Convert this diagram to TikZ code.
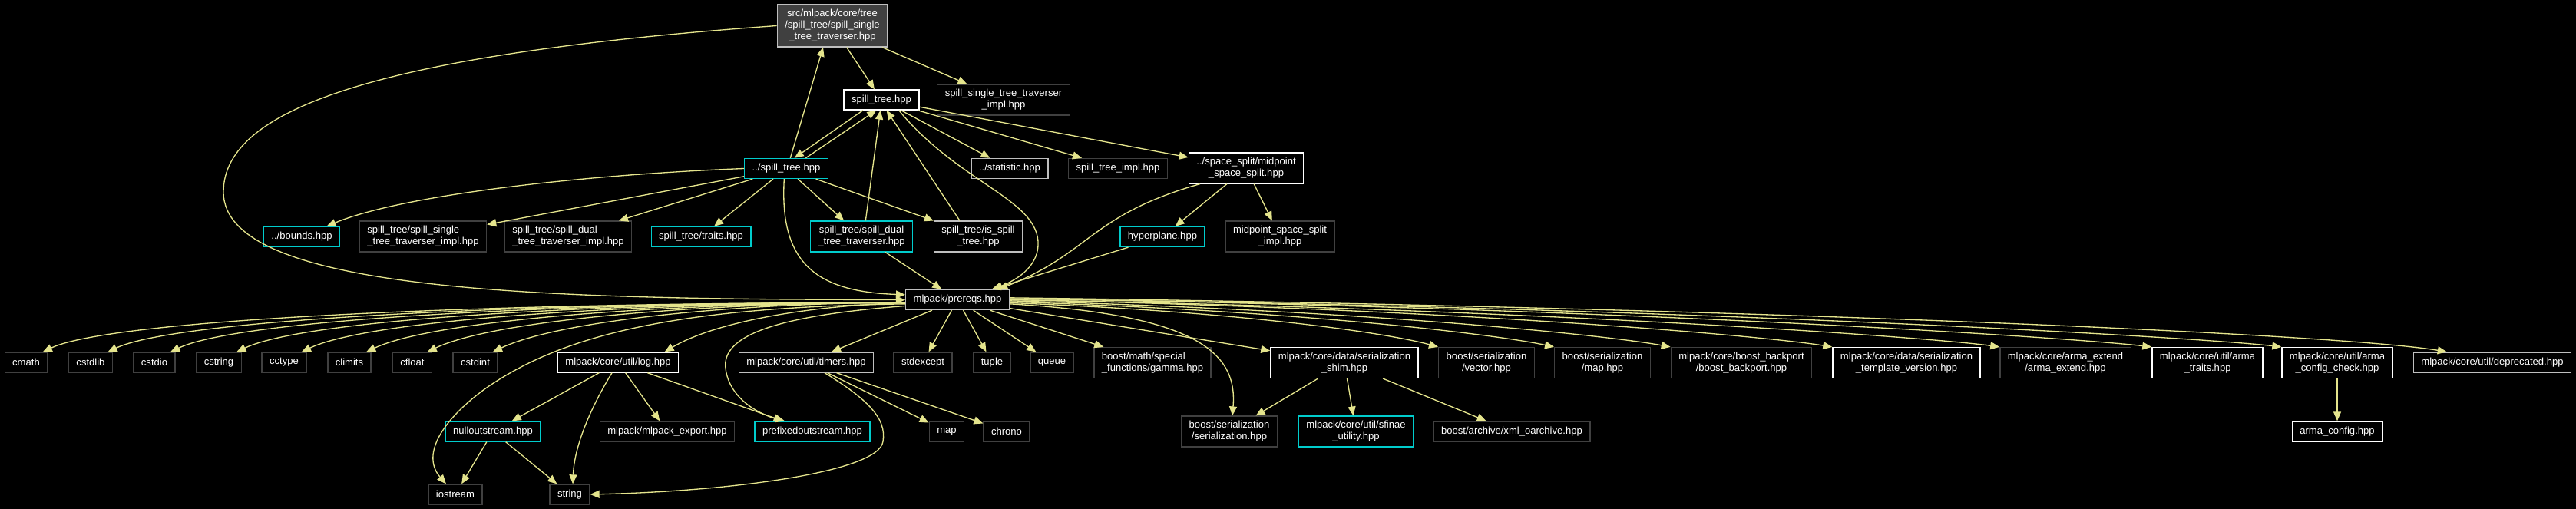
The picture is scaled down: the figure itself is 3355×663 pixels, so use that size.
\documentclass[tikz,border=0pt]{standalone}
\usepackage{fontspec}
\setmainfont{Liberation Sans}
\usepackage{tikz}
\usetikzlibrary{arrows.meta}
\definecolor{edgekhaki}{RGB}{228,228,140}
\definecolor{leafgray}{RGB}{64,64,64}
\definecolor{refgray}{RGB}{191,191,191}
\definecolor{linkcyan}{RGB}{0,204,204}
\definecolor{rootfill}{RGB}{64,64,64}
\tikzset{
  incbox/.style={rectangle,draw,line width=1pt,text=white,align=center,
    inner xsep=7.5pt,inner ysep=4.7pt,minimum height=19.5pt},
  leafbox/.style={incbox,draw=leafgray},
  docbox/.style={incbox,draw=white},
  refbox/.style={incbox,draw=refgray},
  linkbox/.style={incbox,draw=linkcyan},
  rootbox/.style={incbox,draw=refgray,fill=rootfill},
  incedge/.style={-{Triangle[length=9pt,width=7.5pt]},draw=edgekhaki,line width=1pt},
  every picture/.style={font=\fontsize{9.8}{11.3}\selectfont}
}

\begin{document}
\begin{tikzpicture}[x=0.75pt,y=-0.75pt]
  \fill[black] (0,0) rectangle (3355,663);
  \useasboundingbox (0,0) rectangle (3355,663);
  % top part
  \node[rootbox] (mn) at (1084,33.5) {src/mlpack/core/tree\\/spill\_tree/spill\_single\\\_tree\_traverser.hpp};
  \node[docbox] (st) at (1148,130) {spill\_tree.hpp};
  \node[leafbox] (sti) at (1307,130) {spill\_single\_tree\_traverser\\\_impl.hpp};
  \node[linkbox] (ls) at (1024,219.5) {../spill\_tree.hpp};
  \node[refbox] (stat) at (1315,219.5) {../statistic.hpp};
  \node[leafbox] (sti2) at (1456,219.5) {spill\_tree\_impl.hpp};
  \node[docbox] (mp) at (1623,219) {../space\_split/midpoint\\\_space\_split.hpp};
  \node[linkbox] (bd) at (393,308.5) {../bounds.hpp};
  \node[leafbox,align=left] (ssi) at (551,308) {spill\_tree/spill\_single\\\_tree\_traverser\_impl.hpp};
  \node[leafbox,align=left] (sdi) at (740,308) {spill\_tree/spill\_dual\\\_tree\_traverser\_impl.hpp};
  \node[linkbox] (tr) at (913,308.5) {spill\_tree/traits.hpp};
  \node[linkbox] (sdt) at (1122,308) {spill\_tree/spill\_dual\\\_tree\_traverser.hpp};
  \node[refbox] (ist) at (1274,308) {spill\_tree/is\_spill\\\_tree.hpp};
  \node[linkbox] (hp) at (1514,308.5) {hyperplane.hpp};
  \node[leafbox] (mpi) at (1667,308) {midpoint\_space\_split\\\_impl.hpp};
  \node[refbox] (pr) at (1247,390.5) {mlpack/prereqs.hpp};
  % prereqs row
  \node[leafbox] (cm) at (34,472) {cmath};
  \node[leafbox] (cl) at (118,472) {cstdlib};
  \node[leafbox] (ci) at (201,472) {cstdio};
  \node[leafbox] (cs) at (285,472) {cstring};
  \node[leafbox] (ct) at (370,472) {cctype};
  \node[leafbox] (cm2) at (455,472) {climits};
  \node[leafbox] (cf) at (537,472) {cfloat};
  \node[leafbox] (cd) at (619,472) {cstdint};
  \node[docbox] (lg) at (805,472) {mlpack/core/util/log.hpp};
  \node[refbox] (tm) at (1050,472) {mlpack/core/util/timers.hpp};
  \node[leafbox] (se) at (1202,472) {stdexcept};
  \node[leafbox] (tu) at (1292,472) {tuple};
  \node[leafbox] (qu) at (1370,472) {queue};
  \node[leafbox,align=left] (gm) at (1501,472.5) {boost/math/special\\\_functions/gamma.hpp};
  \node[docbox] (sh) at (1751,472.5) {mlpack/core/data/serialization\\\_shim.hpp};
  \node[leafbox] (vc) at (1936,472.5) {boost/serialization\\/vector.hpp};
  \node[leafbox] (mh) at (2087,472.5) {boost/serialization\\/map.hpp};
  \node[leafbox] (bb) at (2268,472.5) {mlpack/core/boost\_backport\\/boost\_backport.hpp};
  \node[docbox] (stv) at (2483,472.5) {mlpack/core/data/serialization\\\_template\_version.hpp};
  \node[leafbox] (ae) at (2690,472.5) {mlpack/core/arma\_extend\\/arma\_extend.hpp};
  \node[docbox] (at) at (2875,472.5) {mlpack/core/util/arma\\\_traits.hpp};
  \node[docbox] (acc) at (3044,472.5) {mlpack/core/util/arma\\\_config\_check.hpp};
  \node[refbox] (dp) at (3246,472) {mlpack/core/util/deprecated.hpp};
  % lower rows
  \node[linkbox] (nu) at (642,562) {nulloutstream.hpp};
  \node[leafbox] (me) at (869,562) {mlpack/mlpack\_export.hpp};
  \node[linkbox] (pf) at (1058,562) {prefixedoutstream.hpp};
  \node[leafbox] (mp2) at (1233,562) {map};
  \node[leafbox] (ch) at (1311,562) {chrono};
  \node[leafbox] (bs) at (1601,562) {boost/serialization\\/serialization.hpp};
  \node[linkbox] (sf) at (1766,562) {mlpack/core/util/sfinae\\\_utility.hpp};
  \node[leafbox] (xo) at (1969,562) {boost/archive/xml\_oarchive.hpp};
  \node[docbox] (ac) at (3044,562) {arma\_config.hpp};
  \node[leafbox] (io) at (593,644) {iostream};
  \node[leafbox] (sg) at (742,644) {string};
  \coordinate (mnbend) at (291,250);
  \coordinate (iobend) at (631,507);
  \coordinate (pfbend) at (945,480);
  \coordinate (stbend) at (1352,320);
  \coordinate (tmbend) at (1150,575);

  % edges
  \draw[incedge] (mn) -- (st);
  \draw[incedge] (mn) -- (sti);
  \draw[incedge] (mn.west) .. controls (500,70) and (291,140) .. (mnbend)
    .. controls (291,380) and (700,390) .. (pr.west);
  \draw[incedge] ([xshift=-18pt]st.south) -- ([xshift=8pt]ls.north);
  \draw[incedge] ([xshift=19pt]ls.north) -- ([xshift=-5pt]st.south);
  \draw[incedge] ([xshift=4pt]sdt.north) -- ([xshift=-1pt]st.south);
  \draw[incedge] ([xshift=-18pt]ist.north) -- ([xshift=5pt]st.south);
  \draw[incedge] ([xshift=4pt]ls.north) -- ([xshift=-9pt]mn.south);
  \draw[incedge] (st) -- (stat);
  \draw[incedge] (st) -- (sti2);
  \draw[incedge] (st) -- (mp);
  \draw[incedge] ([xshift=17pt]st.south) .. controls (1250,240) and (1355,260) .. (stbend)
    .. controls (1350,355) and (1310,370) .. ([xshift=35pt]pr.north);
  \draw[incedge] (ls.west) .. controls (750,228) and (520,255) .. (bd);
  \draw[incedge] (ls) -- (ssi);
  \draw[incedge] (ls) -- (sdi);
  \draw[incedge] (ls) -- (tr);
  \draw[incedge] (ls) -- (sdt);
  \draw[incedge] (ls) -- (ist);
  \draw[incedge] ([xshift=-2pt]ls.south) .. controls (1015,340) and (1060,380) .. ([yshift=5pt]pr.west);
  \draw[incedge] (sdt) -- (pr);
  \draw[incedge] (mp) -- (hp);
  \draw[incedge] (mp) -- (mpi);
  \draw[incedge] ([xshift=-45pt]mp.south) .. controls (1420,280) and (1420,330) .. ([xshift=40pt]pr.north);
  \draw[incedge] (hp) -- (pr);
  % prereqs to the left
  \draw[incedge] ([yshift=-3pt]pr.west) .. controls (721,393) and (154,412) .. ([xshift=-5pt]cm.north east);
  \draw[incedge] ([yshift=-3pt]pr.west) .. controls (764,393) and (239,412) .. ([xshift=-5pt]cl.north east);
  \draw[incedge] ([yshift=-3pt]pr.west) .. controls (804,393) and (320,412) .. ([xshift=-5pt]ci.north east);
  \draw[incedge] ([yshift=-3pt]pr.west) .. controls (847,393) and (406,412) .. ([xshift=-5pt]cs.north east);
  \draw[incedge] ([yshift=-3pt]pr.west) .. controls (890,393) and (491,412) .. ([xshift=-5pt]ct.north east);
  \draw[incedge] ([yshift=-3pt]pr.west) .. controls (932,393) and (576,412) .. ([xshift=-5pt]cm2.north east);
  \draw[incedge] ([yshift=-3pt]pr.west) .. controls (971,393) and (654,412) .. ([xshift=-5pt]cf.north east);
  \draw[incedge] ([yshift=-3pt]pr.west) .. controls (1014,393) and (740,412) .. ([xshift=-5pt]cd.north east);
  \draw[incedge] ([yshift=-3pt]pr.west) .. controls (1050,398) and (930,420) .. ([xshift=-14pt]lg.north east);
  \draw[incedge] ([yshift=-4pt]pr.west) .. controls (900,400) and (740,430) .. (iobend)
    .. controls (570,552) and (550,595) .. (io);
  \draw[incedge] ([yshift=-6pt]pr.west) .. controls (1000,412) and (940,440) .. (pfbend)
    .. controls (950,520) and (990,540) .. ([xshift=-27pt]pf.north);
  % prereqs below
  \draw[incedge] (pr) -- (tm);
  \draw[incedge] (pr) -- (se);
  \draw[incedge] (pr) -- (tu);
  \draw[incedge] (pr) -- (qu);
  \draw[incedge] (pr) -- (gm);
  \draw[incedge] (pr) -- (sh);
  \draw[incedge] ([yshift=-4pt]pr.east) .. controls (1560,410) and (1612,460) .. ([xshift=3pt]bs.north);
  % prereqs to the right
  \draw[incedge] ([yshift=-3pt]pr.east) .. controls (1600,405) and (1800,432) .. (vc.north west);
  \draw[incedge] ([yshift=-2pt]pr.east) .. controls (1700,405) and (1950,436) .. (mh.north west);
  \draw[incedge] ([yshift=-1pt]pr.east) .. controls (1800,405) and (2100,438) .. (bb.north west);
  \draw[incedge] (pr.east) .. controls (1900,402) and (2300,438) .. (stv.north west);
  \draw[incedge] (pr.east) .. controls (2000,402) and (2520,440) .. (ae.north west);
  \draw[incedge] ([yshift=1pt]pr.east) .. controls (2100,400) and (2700,440) .. (at.north west);
  \draw[incedge] ([yshift=1pt]pr.east) .. controls (2200,400) and (2870,440) .. (acc.north west);
  \draw[incedge] ([yshift=2pt]pr.east) .. controls (2250,400) and (3050,435) .. ([xshift=33pt]dp.north west);
  % log, timers, shim
  \draw[incedge] (lg) -- (nu);
  \draw[incedge] ([xshift=-6pt]lg.south) .. controls (770,530) and (748,580) .. ([xshift=3pt]sg.north);
  \draw[incedge] (lg) -- (me);
  \draw[incedge] (lg) -- (pf);
  \draw[incedge] (nu) -- (io);
  \draw[incedge] (nu) -- (sg);
  \draw[incedge] (tm) -- (mp2);
  \draw[incedge] (tm) -- (ch);
  \draw[incedge] ([xshift=18pt]tm.south) .. controls (1130,520) and (1155,545) .. (tmbend)
    .. controls (1145,615) and (950,640) .. (sg.east);
  \draw[incedge] (sh) -- (bs);
  \draw[incedge] (sh) -- (sf);
  \draw[incedge] (sh) -- (xo);
  \draw[incedge] (acc) -- (ac);
\end{tikzpicture}
\end{document}
